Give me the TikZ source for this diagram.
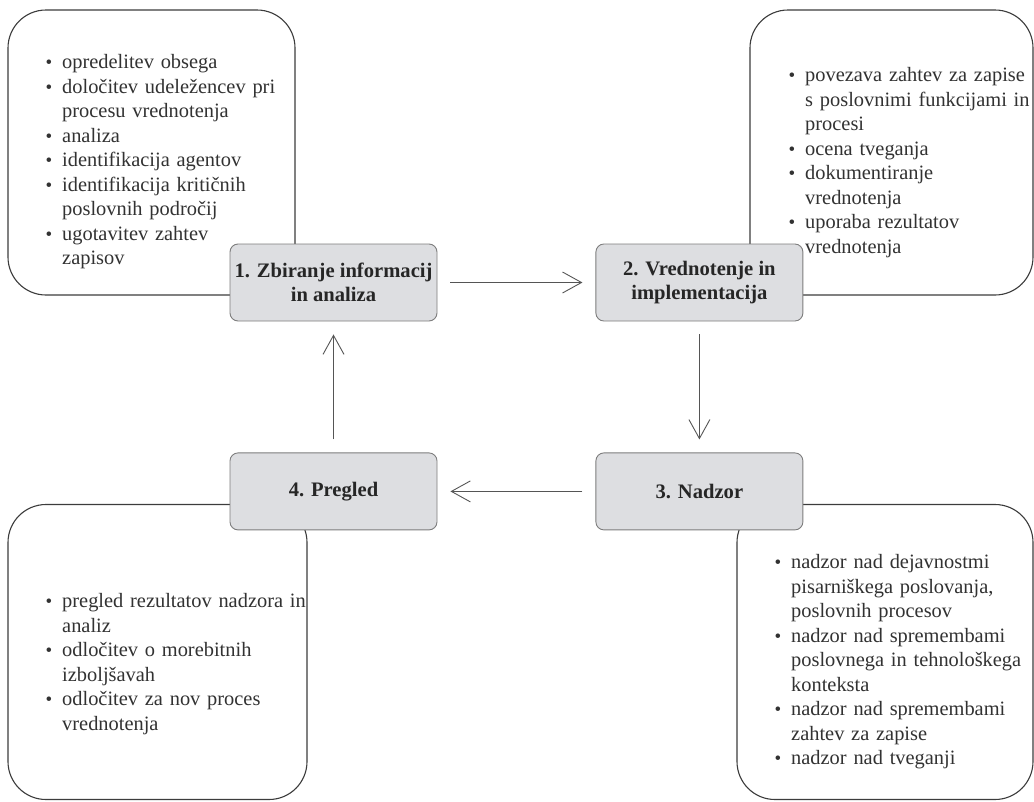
\documentclass[tikz,border=0pt]{standalone}
\usepackage{fontspec}
\setmainfont{Liberation Serif}
\usepackage{tikz}
\usetikzlibrary{positioning,arrows.meta}
\definecolor{textgray}{RGB}{50,50,50}
\definecolor{phasefill}{RGB}{221,222,225}
\definecolor{phaseline}{RGB}{125,125,125}
\definecolor{boxline}{RGB}{60,60,60}
\definecolor{flowline}{RGB}{85,85,85}
\newcommand{\itm}{\par\noindent\llap{{\fontsize{19}{19}\selectfont\textbullet}\hspace{10pt}}\strut}
\tikzset{
  infobox/.style={draw=boxline,line width=1.1pt,rounded corners=38pt,fill=white},
  phase/.style={draw=phaseline,line width=0.9pt,rounded corners=8pt,fill=phasefill,
    minimum width=207pt,minimum height=77pt,align=center,text=black!85,
    font=\fontsize{20.6}{24.5}\selectfont\bfseries},
  itemlist/.style={anchor=north west,inner sep=0pt,text width=275pt,align=left,
    text=textgray,font=\fontsize{20.4}{24.5}\selectfont},
  flow/.style={draw=flowline,line width=0.9pt,-{Straight Barb[length=19pt,width=21pt]},
    shorten <=13pt,shorten >=13pt}
}
\begin{document}
\begin{tikzpicture}[x=1pt,y=-1pt]
        \useasboundingbox (0,0) rectangle (1034,801);
        \node[infobox,minimum width=287pt,minimum height=285pt] (infoA) at (151.5,152.5) {};
        \node[infobox,minimum width=283pt,minimum height=285pt] (infoB) at (891.5,152.5) {};
        \node[infobox,minimum width=299pt,minimum height=295pt] (infoC) at (157.5,652) {};
        \node[infobox,minimum width=296pt,minimum height=295pt] (infoD) at (885,652) {};
        \node[itemlist] (listA) at (62,44) {\itm opredelitev obsega
          \itm določitev udeležencev pri\\procesu vrednotenja
          \itm analiza
          \itm identifikacija agentov
          \itm identifikacija kritičnih\\poslovnih področij
          \itm ugotavitev zahtev\\zapisov};
        \node[itemlist] (listB) at (805,57) {\itm povezava zahtev za zapise\\s poslovnimi funkcijami in\\procesi
          \itm ocena tveganja
          \itm dokumentiranje\\vrednotenja
          \itm uporaba rezultatov\\vrednotenja};
        \node[itemlist] (listC) at (62,583) {\itm pregled rezultatov nadzora in\\analiz
          \itm odločitev o morebitnih\\izboljšavah
          \itm odločitev za nov proces\\vrednotenja};
        \node[itemlist] (listD) at (791,544) {\itm nadzor nad dejavnostmi\\pisarniškega poslovanja,\\poslovnih procesov
          \itm nadzor nad spremembami\\poslovnega in tehnološkega\\konteksta
          \itm nadzor nad spremembami\\zahtev za zapise
          \itm nadzor nad tveganji};
        \node[phase] (zbiranje) at (333.5,282.5) {1. Zbiranje informacij\\in analiza};
        \node[phase,right=158pt of zbiranje] (vrednotenje) {2. Vrednotenje in\\implementacija};
        \node[phase,below=131pt of vrednotenje] (nadzor) {3. Nadzor};
        \node[phase,below=131pt of zbiranje] (pregled) {4. Pregled};
        \foreach \a/\b in {zbiranje/vrednotenje,vrednotenje/nadzor,nadzor/pregled,pregled/zbiranje}
          \draw[flow] (\a) -- (\b);
\end{tikzpicture}
\end{document}
